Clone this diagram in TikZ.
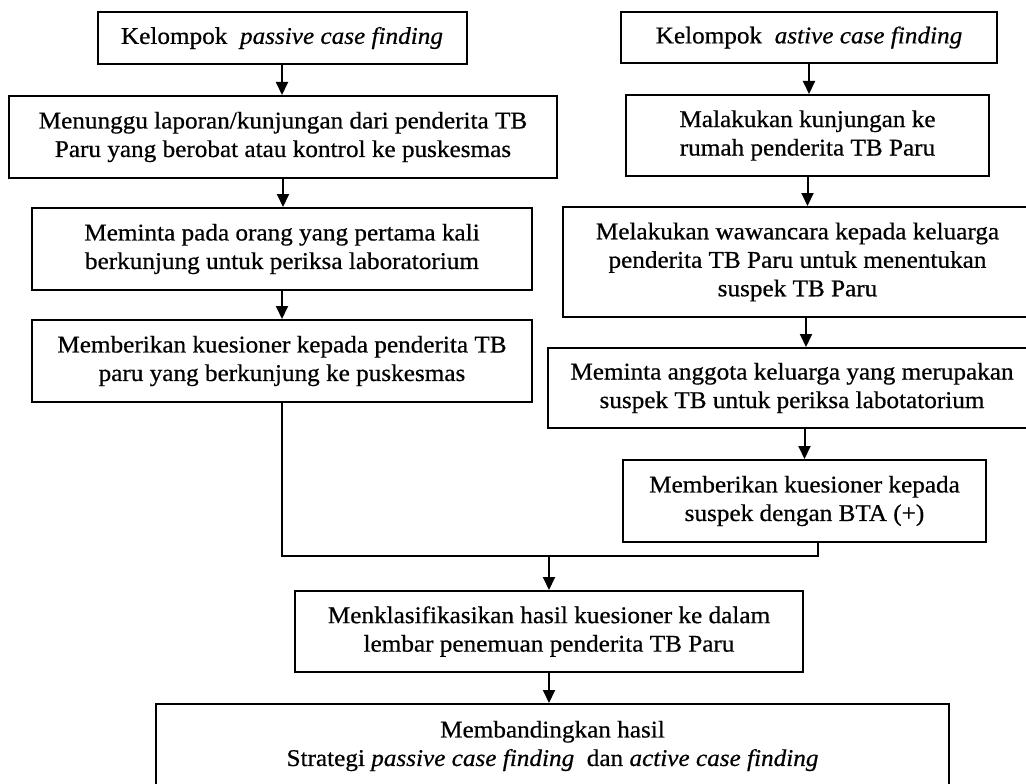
\documentclass[tikz,border=0pt]{standalone}
\usepackage{fontspec}
\setmainfont{Liberation Serif}[FakeStretch=1.05, FakeBold=0.6]
\usetikzlibrary{arrows.meta}
\begin{document}
\begin{tikzpicture}[x=1pt,y=-1pt,
  box/.style={draw=black, line width=2pt, rectangle, align=center, inner sep=0pt,
    font=\fontsize{24}{28.5}\selectfont},
  conn/.style={draw=black, line width=2pt},
  arr/.style={conn, -{Triangle[length=13pt,width=12pt]}}]
\useasboundingbox (0,0) rectangle (1026,784);
\clip (0,0) rectangle (1026,784);
\fill[white] (0,0) rectangle (1026,784);
% left column
\node[box, minimum width=369, minimum height=52] (L1) at (282,38) {Kelompok\ \ \textit{passive case finding}};
\node[box, minimum width=548, minimum height=82] (L2) at (283,137) {Menunggu laporan/kunjungan dari penderita TB\\Paru yang berobat atau kontrol ke puskesmas};
\node[box, minimum width=500, minimum height=82] (L3) at (282,249) {Meminta pada orang yang pertama kali\\berkunjung untuk periksa laboratorium};
\node[box, minimum width=500, minimum height=82] (L4) at (282,361) {Memberikan kuesioner kepada penderita TB\\paru yang berkunjung ke puskesmas};
% right column
\node[box, minimum width=376, minimum height=51] (R1) at (809,37.5) {Kelompok\ \ \textit{astive case finding}};
\node[box, minimum width=363, minimum height=81] (R2) at (807.5,135.5) {Malakukan kunjungan ke\\rumah penderita TB Paru};
\node[box, minimum width=469, minimum height=110] (R3) at (797.5,262) {Melakukan wawancara kepada keluarga\\penderita TB Paru untuk menentukan\\suspek TB Paru};
\node[box, minimum width=488, minimum height=80] (R4) at (792,388) {Meminta anggota keluarga yang merupakan\\suspek TB untuk periksa labotatorium};
\node[box, minimum width=363, minimum height=82] (R5) at (804.5,501) {Memberikan kuesioner kepada\\suspek dengan BTA (+)};
% bottom
\node[box, minimum width=508, minimum height=81] (M) at (549,631.5) {Menklasifikasikan hasil kuesioner ke dalam\\lembar penemuan penderita TB Paru};
\node[box, minimum width=793, minimum height=84] (B) at (552.5,746) {Membandingkan hasil\\Strategi \textit{passive case finding}\ \ dan \textit{active case finding}};
% connectors
\draw[arr] (L1.south) -- (L1.south |- L2.north);
\draw[arr] (L2.south) -- (L2.south |- L3.north);
\draw[arr] (L3.south) -- (L3.south |- L4.north);
\draw[arr] (R1.south) -- (R1.south |- R2.north);
\draw[arr] (R2.south) -- (R2.south |- R3.north);
\draw[arr] ([xshift=8.5]R3.south) -- ([xshift=8.5]R3.south |- R4.north);
\draw[arr] (R5.north |- R4.south) -- (R5.north);
\coordinate (mj) at (548,556);
\draw[conn] (L4.south) |- ([xshift=13.5]R5.south |- mj) -- ([xshift=13.5]R5.south);
\draw[arr] (M.north |- mj) -- (M.north);
\draw[arr] (M.south) -- (M.south |- B.north);
\end{tikzpicture}
\end{document}
